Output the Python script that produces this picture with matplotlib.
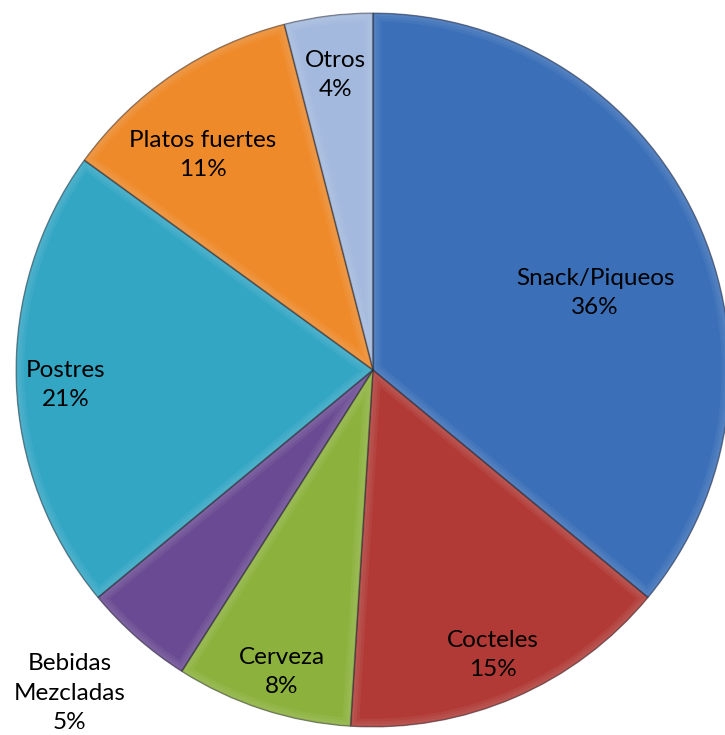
import matplotlib.pyplot as plt
from matplotlib.patches import Wedge
import numpy as np

categorias = ["Snack/Piqueos", "Cocteles", "Cerveza", "Bebidas\nMezcladas",
              "Postres", "Platos fuertes", "Otros"]
porcentajes = [36, 15, 8, 5, 21, 11, 4]
colores = ["#3b6fb8", "#b13a36", "#8cb23d", "#6a4a92", "#33a6c4", "#ee8a2a", "#a3b9de"]
# label centres, in pie-radius units
pos_etiquetas = [(0.622, 0.215), (0.336, -0.798), (-0.255, -0.846), (-0.849, -0.905),
                 (-0.860, -0.042), (-0.476, 0.602), (-0.106, 0.826)]

plt.rcParams['font.family'] = ['Lato', 'DejaVu Sans']

fig = plt.figure(figsize=(7.25, 7.35), dpi=100)
ax = fig.add_axes([0, 0, 1, 1])

R = 357.0
cx, cy = 373.0, 370.0

wedges, _ = ax.pie(porcentajes, colors=colores, startangle=90, counterclock=False,
                   radius=1.0, wedgeprops=dict(edgecolor='none', linewidth=0))
ax.set_aspect('auto')
ax.set_xlim(-cx / R, (725 - cx) / R)
ax.set_ylim(-(735 - cy) / R, cy / R)
ax.axis('off')

# soft bevel: faint light rim inside each slice, thin dark border
for w in wedges:
    for lw, col in [(12, (1, 1, 1, 0.05)), (8, (1, 1, 1, 0.05)), (4, (1, 1, 1, 0.05)),
                    (2, (0, 0, 0, 0.10))]:
        rim = Wedge(w.center, w.r, w.theta1, w.theta2, facecolor='none',
                    edgecolor=col, linewidth=lw)
        ax.add_patch(rim)
        rim.set_clip_path(w)
    ax.add_patch(Wedge(w.center, w.r, w.theta1, w.theta2, facecolor='none',
                       edgecolor=(0.1, 0.1, 0.15, 0.45), linewidth=0.8))

for nombre, p, (x, y) in zip(categorias, porcentajes, pos_etiquetas):
    ax.text(x, y, f"{nombre}\n{p}%", ha='center', va='center', fontsize=17.5,
            color='black', linespacing=1.5)

fig.savefig("out.png", dpi=100)
